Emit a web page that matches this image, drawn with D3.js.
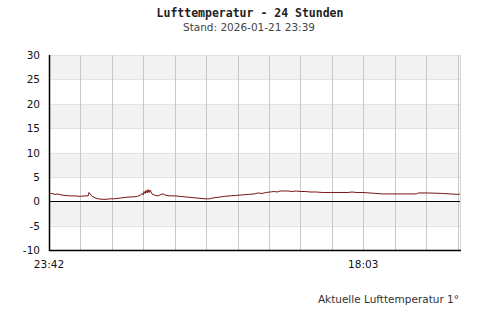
<!DOCTYPE html>
<html>
<head>
<meta charset="utf-8">
<script src="https://cdn.jsdelivr.net/npm/d3@7"></script>
<style>
body { margin: 0; background: #fff; }
</style>
</head>
<body>
<div id="mainDiv"></div>
<script>
// minutes since 23:42 and temperature in °C
var minutes = [0, 10, 21, 32, 42, 56, 74, 91, 109, 126, 137, 140, 144, 151, 161, 172, 186, 200, 214, 228,
               242, 256, 270, 284, 298, 309, 319, 326, 330, 333, 337, 340, 344, 347, 351, 354, 361, 372, 382, 393,
               400, 410, 424, 442, 459, 477, 494, 512, 529, 547, 564, 575, 592, 614, 635, 656, 677, 698, 719, 733,
               747, 761, 775, 789, 799, 810, 824, 838, 852, 866, 880, 898, 915, 936, 957, 985, 1020, 1048, 1062, 1076,
               1097, 1125, 1168, 1196, 1231, 1287, 1294, 1329, 1378, 1406, 1434, 1440];
var temps = [1.5, 1.6, 1.4, 1.5, 1.3, 1.2, 1.1, 1.1, 1.0, 1.1, 1.1, 1.8, 1.5, 1.0, 0.7, 0.5, 0.4, 0.4, 0.5, 0.5,
             0.6, 0.7, 0.8, 0.9, 0.9, 1.0, 1.2, 1.6, 1.3, 2.0, 1.6, 2.2, 1.7, 2.4, 1.8, 2.3, 1.5, 1.2, 1.1, 1.4,
             1.5, 1.2, 1.1, 1.1, 1.0, 0.9, 0.8, 0.7, 0.6, 0.5, 0.5, 0.7, 0.8, 1.0, 1.1, 1.2, 1.3, 1.4, 1.5, 1.7,
             1.6, 1.8, 1.9, 2.0, 1.9, 2.1, 2.1, 2.1, 2.0, 2.1, 2.0, 2.0, 1.9, 1.9, 1.8, 1.8, 1.8, 1.8, 1.9, 1.8,
             1.8, 1.7, 1.5, 1.5, 1.5, 1.5, 1.7, 1.7, 1.6, 1.5, 1.4, 1.5];

var yTicks = [-10, -5, 0, 5, 10, 15, 20, 25, 30];
var xGrid = [0, 110.1, 220.2, 330.3, 440.4, 550.5, 660.6, 770.7, 880.8, 990.9, 1101, 1211.1, 1321.2, 1431.3];
var xLabels = ["23:42", "", "", "", "", "", "", "", "", "", "18:03", "", "", ""];

var title = "Lufttemperatur - 24 Stunden";
var subtitle = "Stand: 2026-01-21 23:39";
var footer = "Aktuelle Lufttemperatur 1°";

var pLeft = 49, pRight = 460, pTop = 55, pBottom = 250;

var mySvg = d3.select("#mainDiv").append("svg")
              .attr("width", 500)
              .attr("height", 320);

var x = d3.scaleLinear().domain([0, 1440]).range([pLeft, pRight]);
var y = d3.scaleLinear().domain([-10, 30]).range([pBottom, pTop]);

// alternating bands
for (var i = 0; i < yTicks.length - 1; i++) {
    var lo = yTicks[i], hi = yTicks[i + 1];
    mySvg.append("rect")
         .attr("x", pLeft)
         .attr("y", y(hi))
         .attr("width", pRight - pLeft)
         .attr("height", y(lo) - y(hi))
         .attr("fill", (i % 2 == 0) ? "#ffffff" : "#f2f2f2");
}

// horizontal grid
mySvg.selectAll(".hgrid")
     .data(yTicks)
     .enter().append("line")
     .attr("x1", pLeft).attr("x2", pRight)
     .attr("y1", d => Math.round(y(d)) + 0.5).attr("y2", d => Math.round(y(d)) + 0.5)
     .attr("stroke", "#e2e2e2");

// vertical grid
mySvg.selectAll(".vgrid")
     .data(xGrid.slice(1))
     .enter().append("line")
     .attr("x1", d => Math.round(x(d)) + 0.5).attr("x2", d => Math.round(x(d)) + 0.5)
     .attr("y1", pTop).attr("y2", pBottom)
     .attr("stroke", "#c8c8c8");

mySvg.append("line")
     .attr("x1", pRight + 0.5).attr("x2", pRight + 0.5)
     .attr("y1", pTop).attr("y2", pBottom)
     .attr("stroke", "#d8d8d8");

// zero line
mySvg.append("line")
     .attr("x1", pLeft).attr("x2", pRight)
     .attr("y1", Math.round(y(0)) + 0.5).attr("y2", Math.round(y(0)) + 0.5)
     .attr("stroke", "#000");

// axes
mySvg.append("line")
     .attr("x1", pLeft + 0.5).attr("x2", pLeft + 0.5)
     .attr("y1", pTop).attr("y2", pBottom + 1)
     .attr("stroke", "#000").attr("stroke-width", 1.5);
mySvg.append("line")
     .attr("x1", pLeft).attr("x2", pRight + 1)
     .attr("y1", pBottom + 0.5).attr("y2", pBottom + 0.5)
     .attr("stroke", "#000").attr("stroke-width", 1.5);

// y labels
mySvg.selectAll(".ylab")
     .data(yTicks)
     .enter().append("text")
     .text(d => d)
     .attr("x", 40)
     .attr("y", d => y(d) + 4)
     .attr("text-anchor", "end")
     .attr("font-family", "DejaVu Sans")
     .attr("font-size", "10.5px")
     .attr("fill", "#111");

// x labels
mySvg.selectAll(".xlab")
     .data(xGrid)
     .enter().append("text")
     .text((d, i) => xLabels[i])
     .attr("x", d => x(d))
     .attr("y", 268)
     .attr("text-anchor", "middle")
     .attr("font-family", "DejaVu Sans")
     .attr("font-size", "10.5px")
     .attr("fill", "#111");

// data line
var line = d3.line()
             .x((d, i) => x(minutes[i]))
             .y(d => y(d));

mySvg.append("path")
     .datum(temps)
     .attr("d", line)
     .attr("fill", "none")
     .attr("stroke", "#7a1414")
     .attr("stroke-width", 1);

// titles
mySvg.append("text")
     .text(title)
     .attr("x", 250).attr("y", 17)
     .attr("text-anchor", "middle")
     .attr("font-family", "DejaVu Sans Mono")
     .attr("font-weight", "bold")
     .attr("font-size", "11.5px")
     .attr("fill", "#222");

mySvg.append("text")
     .text(subtitle)
     .attr("x", 249).attr("y", 31)
     .attr("text-anchor", "middle")
     .attr("font-family", "DejaVu Sans")
     .attr("font-size", "10.5px")
     .attr("fill", "#444");

mySvg.append("text")
     .text(footer)
     .attr("x", 459).attr("y", 303)
     .attr("text-anchor", "end")
     .attr("font-family", "DejaVu Sans")
     .attr("font-size", "10.5px")
     .attr("fill", "#333");
</script>
</body>
</html>
